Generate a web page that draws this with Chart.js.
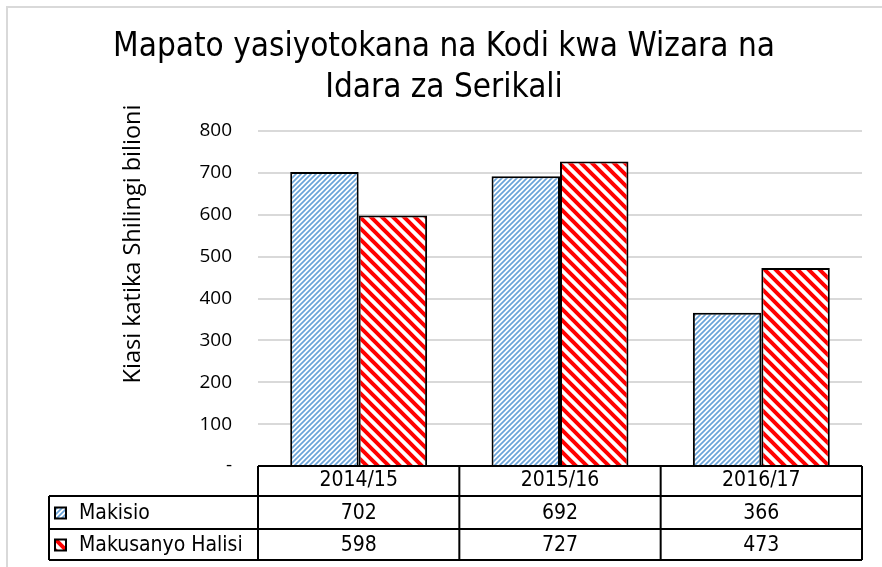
<!DOCTYPE html>
<html><head><meta charset="utf-8">
<script src="https://cdn.jsdelivr.net/npm/chart.js@4/dist/chart.umd.min.js"></script>
<style>html,body{margin:0;padding:0;background:#fff}#wrap{width:882px;height:567px;position:relative}</style>
</head><body><div id="wrap"><canvas id="c" width="882" height="567"></canvas></div>
<script>
const titleLines = ["Mapato yasiyotokana na Kodi kwa Wizara na", "Idara za Serikali"];
const yAxisTitle = "Kiasi katika Shilingi bilioni";
const categories = ["2014/15", "2015/16", "2016/17"];
const seriesNames = ["Makisio", "Makusanyo Halisi"];
const makisio = [702, 692, 366];
const makusanyo = [598, 727, 473];
const yTicks = [0, 100, 200, 300, 400, 500, 600, 700, 800];

function makePattern(kind) {
  const c = document.createElement('canvas');
  const s = kind === 'blue' ? 5 : 11;
  c.width = s; c.height = s;
  const g = c.getContext('2d');
  g.fillStyle = '#fff'; g.fillRect(0, 0, s, s);
  g.strokeStyle = kind === 'blue' ? '#6aa3d8' : '#ff0000';
  g.lineWidth = kind === 'blue' ? 1.7 : 4;
  g.beginPath();
  if (kind === 'blue') {
    g.moveTo(0, s); g.lineTo(s, 0);
    g.moveTo(-2, 2); g.lineTo(2, -2);
    g.moveTo(s - 2, s + 2); g.lineTo(s + 2, s - 2);
  } else {
    g.moveTo(0, 0); g.lineTo(s, s);
    g.moveTo(-4, s - 4); g.lineTo(4, s + 4);
    g.moveTo(s - 4, -4); g.lineTo(s + 4, 4);
  }
  g.stroke();
  return g.canvas;
}
const ctx0 = document.getElementById('c').getContext('2d');
const bluePat = ctx0.createPattern(makePattern('blue'), 'repeat');
const redPat = ctx0.createPattern(makePattern('red'), 'repeat');
const patterns = [bluePat, redPat];
const seriesData = [makisio, makusanyo];

const TITLE_FONT = '"DejaVu Sans Condensed", "DejaVu Sans", sans-serif';
const TABLE_FONT = '"DejaVu Sans Condensed", "DejaVu Sans", sans-serif';
const TICK_FONT = '"Open Sans", "Noto Sans", sans-serif';

const decor = {
  id: 'decor',
  beforeDraw(chart) {
    const c = chart.ctx;
    c.save();
    c.strokeStyle = '#d9d9d9'; c.lineWidth = 2;
    c.beginPath(); c.moveTo(7, 567); c.lineTo(7, 7); c.lineTo(882, 7); c.stroke();
    c.fillStyle = '#000';
    c.textAlign = 'center'; c.textBaseline = 'middle';
    c.font = '33px ' + TITLE_FONT;
    c.fillText(titleLines[0], 444, 47);
    c.fillText(titleLines[1], 444, 88);
    c.translate(133, 244); c.rotate(-Math.PI / 2);
    c.font = '23.5px ' + TICK_FONT;
    c.fillText(yAxisTitle, 0, 0);
    c.restore();
  },
  afterDraw(chart) {
    const c = chart.ctx, x = chart.scales.x, area = chart.chartArea;
    const half = (x.getPixelForValue(1) - x.getPixelForValue(0)) / 2;
    const cols = categories.map((_, i) => x.getPixelForValue(i));
    const edges = [cols[0] - half].concat(cols.map(v => v + half));
    const top = area.bottom, r1 = 496, r2 = 529, bot = 560, left = 49;
    c.save();
    c.strokeStyle = '#000'; c.lineWidth = 2;
    c.beginPath();
    c.moveTo(edges[0], top); c.lineTo(edges[3], top);
    c.moveTo(left, r1); c.lineTo(edges[3], r1);
    c.moveTo(left, r2); c.lineTo(edges[3], r2);
    c.moveTo(left, bot); c.lineTo(edges[3], bot);
    c.moveTo(left, r1); c.lineTo(left, bot);
    edges.forEach(e => { c.moveTo(e, top); c.lineTo(e, bot); });
    c.stroke();
    c.fillStyle = '#000'; c.textBaseline = 'middle'; c.textAlign = 'center';
    c.font = '21px ' + TABLE_FONT;
    categories.forEach((cat, i) => c.fillText(cat, cols[i], (top + r1) / 2));
    const rows = [[r1, r2], [r2, bot]];
    seriesData.forEach((arr, s) => {
      const cy = (rows[s][0] + rows[s][1]) / 2 + 1;
      arr.forEach((v, i) => { c.textAlign = 'center'; c.fillText(String(v), cols[i], cy); });
      c.fillStyle = patterns[s];
      c.fillRect(55, cy - 6, 11, 11);
      c.lineWidth = 2; c.strokeStyle = '#000';
      c.strokeRect(55, cy - 6, 11, 11);
      c.fillStyle = '#000'; c.textAlign = 'left';
      c.fillText(seriesNames[s], 79, cy);
    });
    c.restore();
  }
};

new Chart(document.getElementById('c'), {
  type: 'bar',
  data: {
    labels: categories,
    datasets: [
      { label: seriesNames[0], data: makisio, backgroundColor: bluePat, borderColor: '#000', borderWidth: 2 },
      { label: seriesNames[1], data: makusanyo, backgroundColor: redPat, borderColor: '#000', borderWidth: 2 }
    ]
  },
  options: {
    responsive: false, animation: false,
    layout: { padding: { top: 131, right: 20, bottom: 101, left: 0 } },
    datasets: { bar: { categoryPercentage: 0.68, barPercentage: 1.0 } },
    plugins: { legend: { display: false }, tooltip: { enabled: false }, title: { display: false } },
    scales: {
      x: { display: false },
      y: {
        min: 0, max: 800,
        afterFit(s) { s.width = 258; },
        afterBuildTicks(s) { s.ticks = yTicks.map(v => ({ value: v })); },
        border: { display: false },
        grid: { color: '#d9d9d9', lineWidth: 2, drawTicks: false },
        ticks: {
          padding: 26, color: '#000',
          font: { family: TICK_FONT, size: 19 },
          callback: v => v === 0 ? '-' : String(v)
        }
      }
    }
  },
  plugins: [decor]
});
</script></body></html>
